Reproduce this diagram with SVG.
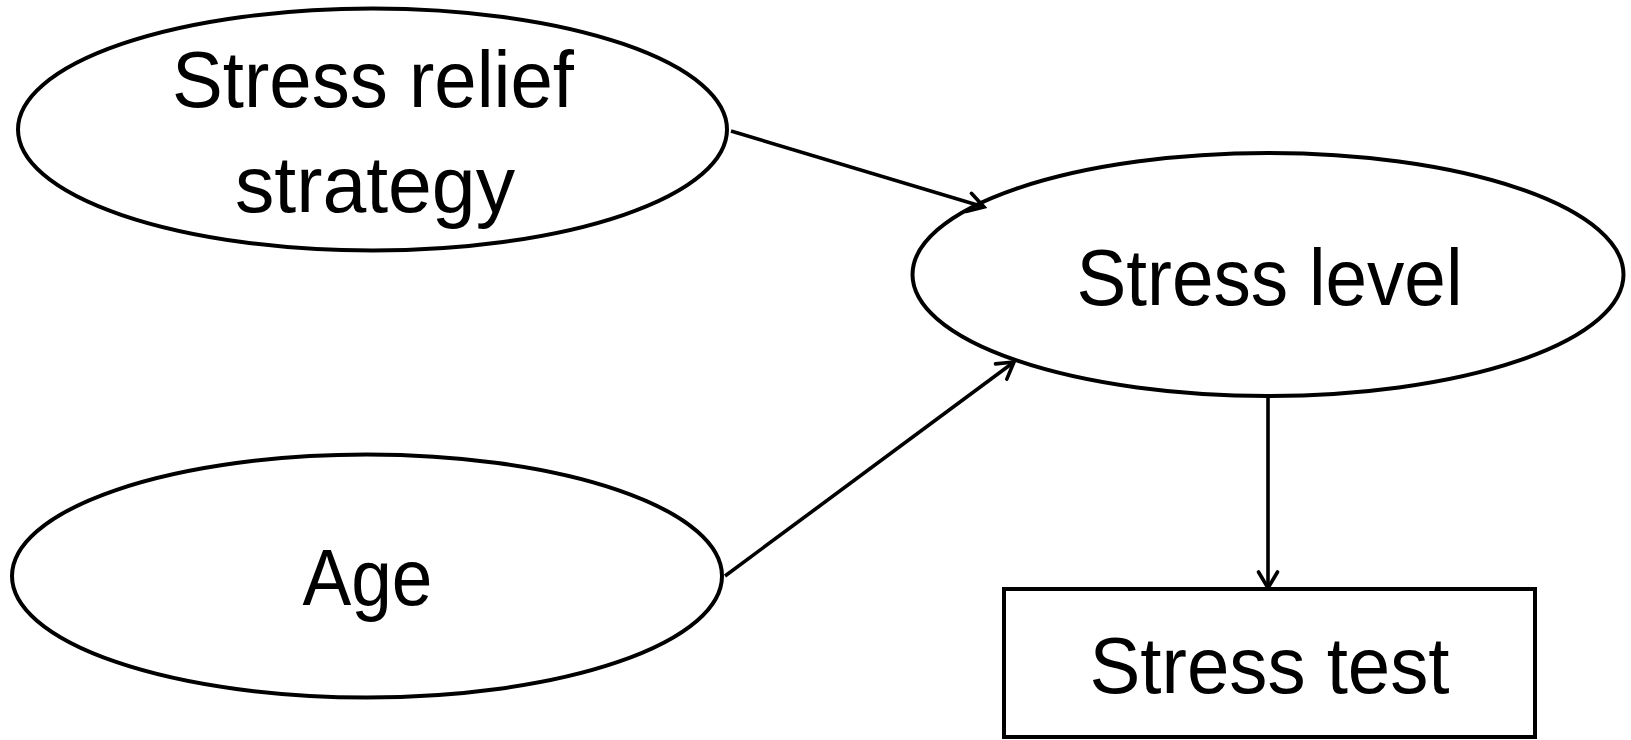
<svg xmlns="http://www.w3.org/2000/svg" width="1631" height="740" viewBox="0 0 1631 740">
  <style>
    .shape { fill: #ffffff; stroke: #000000; stroke-width: 4; }
    .label { font-family: "Liberation Sans", Arial, sans-serif; font-size: 80px; fill: #000000; text-anchor: middle; }
    .edge { fill: none; stroke: #000000; stroke-width: 3.6; }
  </style>
  <defs>
    <marker id="arrow" markerUnits="userSpaceOnUse" viewBox="0 0 22 24" markerWidth="22" markerHeight="24" refX="19" refY="12" orient="auto">
      <path d="M3,2.5 L19,12 L3,21.5" fill="none" stroke="#000000" stroke-width="3.6" stroke-linecap="round" stroke-linejoin="miter"/>
    </marker>
  </defs>

  <rect width="1631" height="740" fill="#ffffff"/>

  <g id="node-stress-relief">
    <ellipse class="shape" cx="372.5" cy="129.5" rx="354.5" ry="121"/>
    <text class="label" x="373" y="107" textLength="402" lengthAdjust="spacingAndGlyphs">Stress relief</text>
    <text class="label" x="375" y="212" textLength="280" lengthAdjust="spacingAndGlyphs">strategy</text>
  </g>

  <g id="node-stress-level">
    <ellipse class="shape" cx="1268" cy="274.5" rx="355.5" ry="121.5"/>
    <text class="label" x="1269.5" y="305" textLength="386" lengthAdjust="spacingAndGlyphs">Stress level</text>
  </g>

  <g id="node-age">
    <ellipse class="shape" cx="367" cy="576" rx="355" ry="121.5"/>
    <text class="label" x="367.5" y="605" textLength="130" lengthAdjust="spacingAndGlyphs">Age</text>
  </g>

  <g id="node-stress-test">
    <rect class="shape" x="1004" y="589" width="531" height="148"/>
    <text class="label" x="1269.5" y="693" textLength="360" lengthAdjust="spacingAndGlyphs">Stress test</text>
  </g>

  <g id="connectors">
    <line class="edge" x1="731" y1="131" x2="984" y2="207" marker-end="url(#arrow)"/>
    <line class="edge" x1="725" y1="576" x2="1014" y2="362" marker-end="url(#arrow)"/>
    <line class="edge" x1="1268" y1="396" x2="1268" y2="588" marker-end="url(#arrow)"/>
  </g>
</svg>
